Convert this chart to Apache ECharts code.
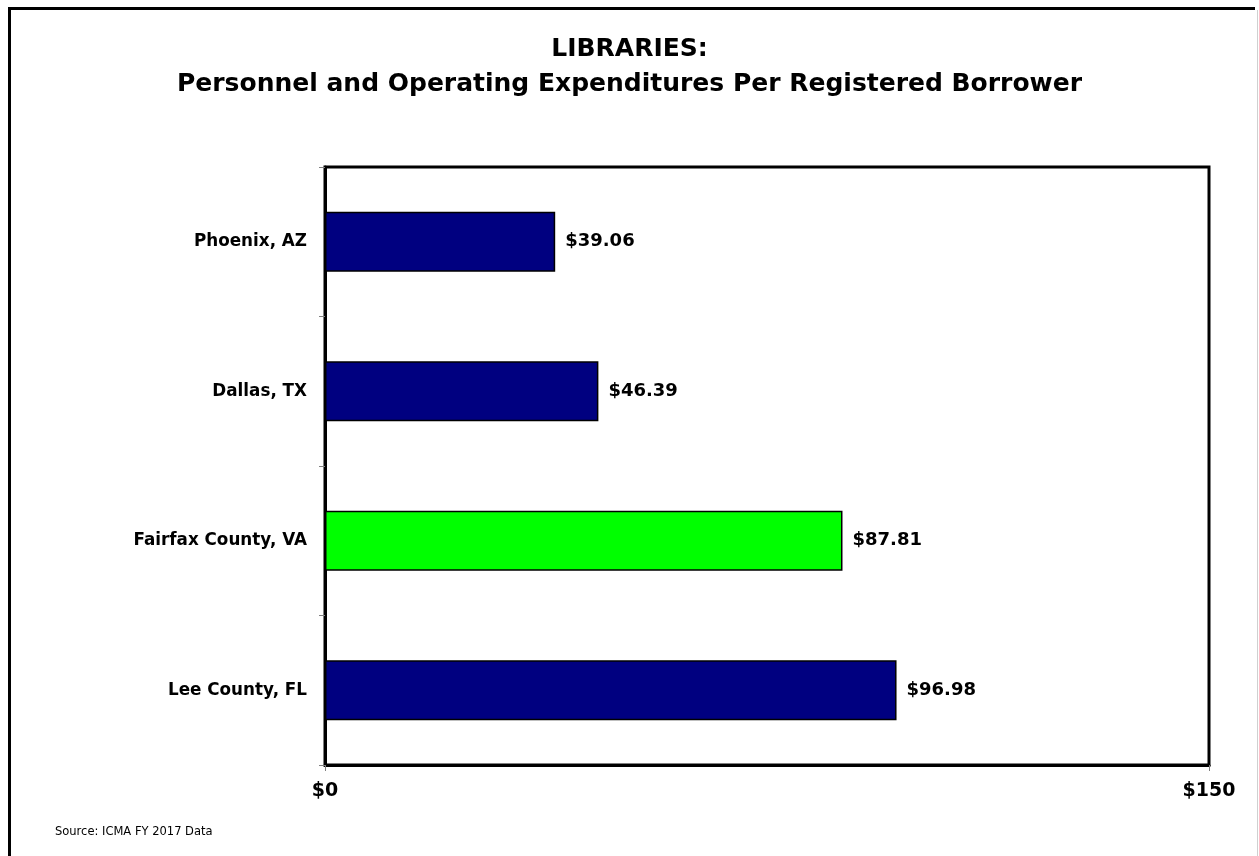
<!DOCTYPE html>
<html>
<head>
<meta charset="utf-8">
<script src="https://cdn.jsdelivr.net/npm/echarts@6/dist/echarts.min.js"></script>
<style>
html,body{margin:0;padding:0;background:#fff;}
#main{width:1259px;height:856px;}
</style>
</head>
<body>
<div id="main"></div>
<script>
var categories = ['Phoenix, AZ', 'Dallas, TX', 'Fairfax County, VA', 'Lee County, FL'];
var values = [39.06, 46.39, 87.81, 96.98];
var barColors = ['#000080', '#000080', '#00FF00', '#000080'];
var xTicks = [0, 150];
var titleLines = ['LIBRARIES:', 'Personnel and Operating Expenditures Per Registered Borrower'];
var sourceText = 'Source: ICMA FY 2017 Data';

var chart = echarts.init(document.getElementById('main'));
var option = {
  backgroundColor: '#ffffff',
  animation: false,
  title: {
    text: titleLines.join('\n'),
    left: 'center',
    top: 27,
    textStyle: {
      fontFamily: 'DejaVu Sans',
      fontSize: 25,
      fontWeight: 'bold',
      color: '#000',
      lineHeight: 35
    }
  },
  grid: {
    left: 325, right: 50, top: 167, bottom: 91,
    show: true, borderColor: '#000', borderWidth: 3, backgroundColor: 'transparent'
  },
  xAxis: {
    type: 'value',
    min: xTicks[0], max: xTicks[xTicks.length - 1], interval: xTicks[1] - xTicks[0],
    axisLine: { show: true, lineStyle: { color: '#000', width: 3 } },
    axisTick: { show: true, length: 6, lineStyle: { color: '#808080', width: 1 } },
    splitLine: { show: false },
    axisLabel: {
      margin: 17,
      formatter: function (v) { return '$' + v; },
      fontFamily: 'DejaVu Sans', fontWeight: 'bold', fontSize: 19, color: '#000'
    }
  },
  yAxis: {
    type: 'category',
    data: categories,
    inverse: true,
    axisLine: { show: true, lineStyle: { color: '#000', width: 3 } },
    axisTick: { show: true, length: 6, lineStyle: { color: '#808080', width: 1 } },
    axisLabel: {
      margin: 18,
      fontFamily: 'DejaVu Sans', fontWeight: 'bold', fontSize: 16.8, color: '#000'
    }
  },
  series: [{
    type: 'bar',
    barWidth: '40%',
    data: values.map(function (v, i) {
      return { value: v, itemStyle: { color: barColors[i], borderColor: '#000', borderWidth: 1.5 } };
    }),
    label: {
      show: true, position: 'right', distance: 10,
      formatter: function (p) { return '$' + p.value.toFixed(2); },
      fontFamily: 'DejaVu Sans', fontWeight: 'bold', fontSize: 18, color: '#000'
    }
  }],
  graphic: [
    { type: 'line', shape: { x1: 9.5, y1: 8.5, x2: 1255, y2: 8.5 }, style: { stroke: '#000', lineWidth: 3 } },
    { type: 'line', shape: { x1: 9.5, y1: 7, x2: 9.5, y2: 856 }, style: { stroke: '#000', lineWidth: 3 } },
    { type: 'line', shape: { x1: 1257.5, y1: 10, x2: 1257.5, y2: 856 }, style: { stroke: '#d0d0d0', lineWidth: 1 } },
    { type: 'text', left: 55, top: 826, style: { text: sourceText, fontFamily: 'DejaVu Sans', fontSize: 11.5, fill: '#000' } }
  ]
};
chart.setOption(option);
</script>
</body>
</html>
